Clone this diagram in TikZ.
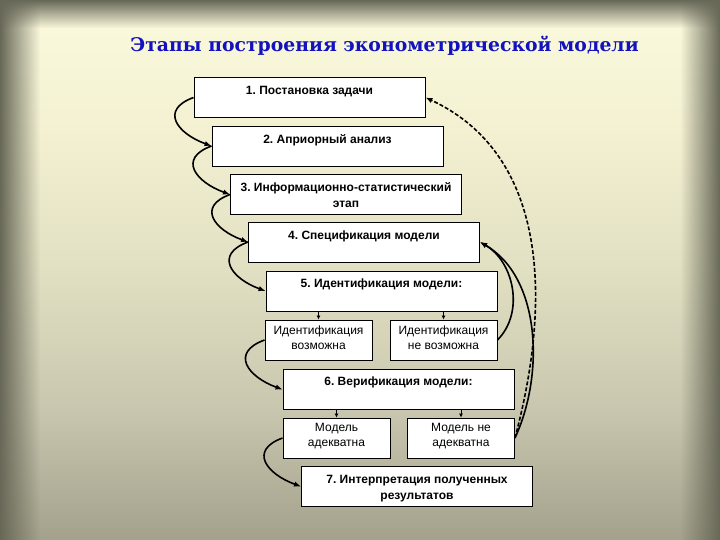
\documentclass[tikz,border=0pt]{standalone}
\usepackage{fontspec}
\setmainfont{Liberation Sans}
\newfontfamily\titlefont{DejaVu Serif}
\usetikzlibrary{arrows.meta,fadings,calc}
\frenchspacing

% colours of the slide
\definecolor{bgA}{RGB}{108,112,96}
\definecolor{bgB}{RGB}{142,140,120}
\definecolor{bgC}{RGB}{200,198,174}
\definecolor{bgD}{RGB}{226,224,194}
\definecolor{bgE}{RGB}{243,241,210}
\definecolor{bgF}{RGB}{255,254,226}
\definecolor{edgegrey}{RGB}{104,104,88}
\definecolor{titleblue}{RGB}{18,18,190}
\pgfdeclareverticalshading{slidebg}{100bp}{color(0bp)=(bgA); color(18bp)=(bgB); color(37bp)=(bgC); color(50bp)=(bgD); color(63bp)=(bgE); color(80bp)=(bgF); color(100bp)=(bgF)}

\begin{document}
\begin{tikzpicture}[x=1pt, y=1pt,
  stage/.style={draw=black, line width=0.9pt, fill=white, minimum width=231pt, minimum height=40pt, inner sep=0pt},
  subbox/.style={stage, minimum width=107pt},
  stagetext/.style={anchor=north, inner sep=1pt, align=center, font=\fontsize{12}{16}\selectfont\bfseries},
  subtext/.style={anchor=north, inner sep=1pt, align=center, font=\fontsize{12}{15}\selectfont},
  link/.style={line width=1.6pt, -{Latex[length=7pt, width=5.5pt]}},
  drop/.style={line width=0.7pt, -{Latex[length=4pt, width=4pt]}}]
\useasboundingbox (0,0) rectangle (720,-540);

% Background of the slide
\fill[shading=slidebg] (0,0) rectangle (720,-540);
\fill[edgegrey, path fading=east] (0,0) rectangle (40,-540);
\fill[edgegrey, path fading=west] (680,0) rectangle (720,-540);
\fill[edgegrey, path fading=south] (0,0) rectangle (720,-28);

% Title
\node[anchor=base, text=titleblue, font=\titlefont\fontsize{18.8}{24}\selectfont\bfseries] (title) at (384.5,-52) {Этапы построения эконометрической модели};

% Stages
\node[stage] (s1) at (309.5,-97.5) {};
\node[stagetext] (t1) at ([yshift=-8pt]s1.north) {1. Постановка задачи};
\node[stage] (s2) at (327.5,-146) {};
\node[stagetext] (t2) at ([yshift=-8pt]s2.north) {2. Априорный анализ};
\node[stage] (s3) at (346,-194.5) {};
\node[stagetext] (t3) at ([yshift=-7pt]s3.north) {3. Информационно-статистический\\этап};
\node[stage] (s4) at (364,-242) {};
\node[stagetext] (t4) at ([yshift=-8pt]s4.north) {4. Спецификация модели};
\node[stage] (s5) at (381.5,-291) {};
\node[stagetext] (t5) at ([yshift=-7pt]s5.north) {5. Идентификация модели:};
\node[subbox] (s5a) at (318.5,-340) {};
\node[subtext] (t5a) at ([yshift=-5pt]s5a.north) {Идентификация\\возможна};
\node[subbox] (s5b) at (443.5,-340) {};
\node[subtext] (t5b) at ([yshift=-5pt]s5b.north) {Идентификация\\не возможна};
\node[stage] (s6) at (398.5,-389.5) {};
\node[stagetext] (t6) at ([yshift=-7pt]s6.north) {6. Верификация модели:};
\node[subbox] (s6a) at (336.5,-438) {};
\node[subtext] (t6a) at ([yshift=-4pt]s6a.north) {Модель\\адекватна};
\node[subbox] (s6b) at (461,-438) {};
\node[subtext] (t6b) at ([yshift=-4pt]s6b.north) {Модель не\\адекватна};
\node[stage] (s7) at (417,-486.5) {};
\node[stagetext] (t7) at ([yshift=-8pt]s7.north) {7. Интерпретация полученных\\результатов};

% Links on the left
\draw[link] (s1.west) to[out=200, in=160, looseness=1.8] (s2.west);
\draw[link] (s2.west) to[out=200, in=160, looseness=1.8] (s3.west);
\draw[link] (s3.west) to[out=200, in=160, looseness=1.8] (s4.west);
\draw[link] (s4.west) to[out=200, in=160, looseness=1.8] (s5.west);
\draw[link] (s5a.west) to[out=200, in=160, looseness=1.8] (s6.west);
\draw[link] (s6a.west) to[out=200, in=160, looseness=1.8] (s7.west);

% Short arrows down
\draw[drop] (s5.south -| s5a.north) -- (s5a.north);
\draw[drop] (s5.south -| s5b.north) -- (s5b.north);
\draw[drop] (s6.south -| s6a.north) -- (s6a.north);
\draw[drop] (s6.south -| s6b.north) -- (s6b.north);

% Links back on the right
\draw[link] (s5b.east) to[out=45, in=-30] (s4.east);
\draw[link] (s6b.east) to[out=65, in=-30, looseness=0.9] (s4.east);
\draw[link, dash pattern=on 4pt off 2pt] (s6b.east) to[out=75, in=-25] (s1.east);
\end{tikzpicture}
\end{document}
